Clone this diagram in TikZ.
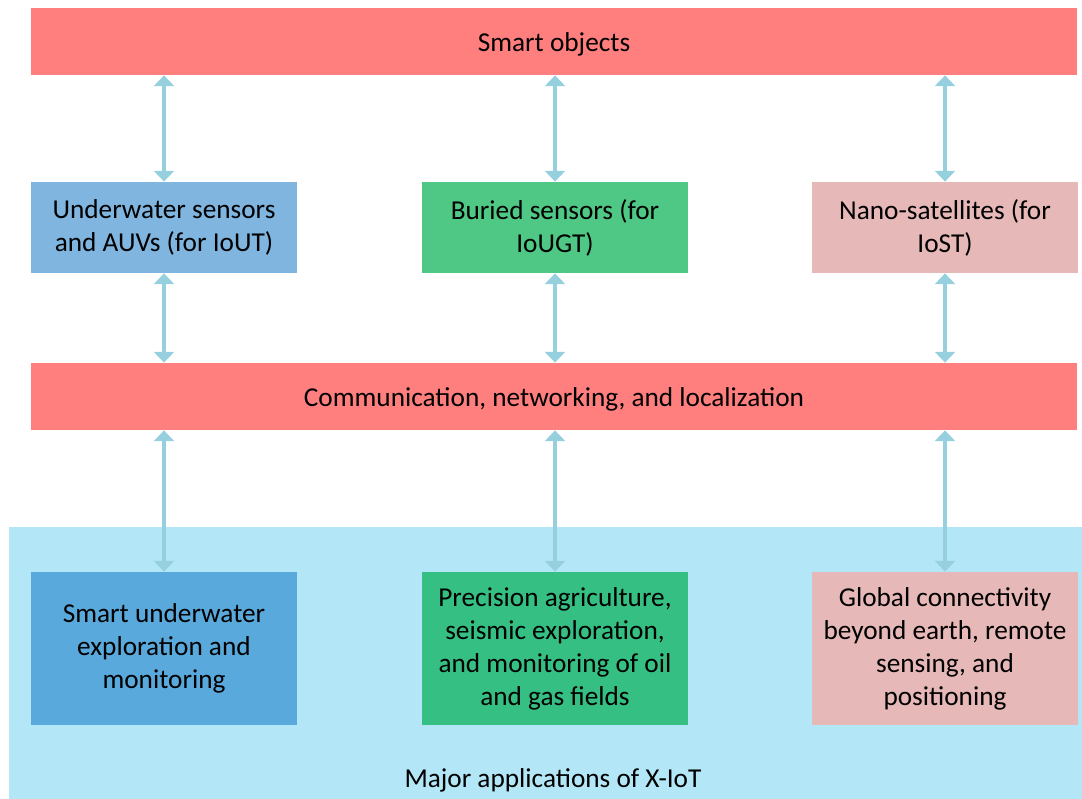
\documentclass[tikz,border=0pt]{standalone}
\usepackage{fontspec}
\setmainfont{Carlito}
\usepackage{tikz}
\usetikzlibrary{arrows.meta}
\RequirePackage{xcolor}
\definecolor{barred}{HTML}{FF7F7F}
\definecolor{seablue}{HTML}{7FB5DF}
\definecolor{seadeep}{HTML}{5AA9DC}
\definecolor{soilgreen}{HTML}{4EC884}
\definecolor{soildeep}{HTML}{36BF83}
\definecolor{spacepink}{HTML}{E6B8B7}
\definecolor{appback}{HTML}{B3E7F8}
\definecolor{linkblue}{HTML}{96CFDD}

\begin{document}
\begin{tikzpicture}[x=0.025cm, y=-0.025cm,
    every node/.style={font=\fontsize{19.4}{23.5}\selectfont, align=center, inner sep=0pt},
    bar/.style={fill=barred, minimum width=26.15cm, minimum height=1.68cm, execute at begin node={\rule{0pt}{18pt}}},
    box/.style={minimum width=6.65cm, minimum height=2.28cm, execute at begin node={\rule{0pt}{21pt}}},
    appbox/.style={minimum width=6.65cm, minimum height=3.83cm, execute at begin node={\rule{0pt}{21pt}}},
    link/.style={draw=linkblue, line width=2.8pt, {Triangle[width=0.5cm,length=0.27cm]}-{Triangle[width=0.5cm,length=0.27cm]}}]
    \useasboundingbox (0,0) rectangle (1082,799);
    \fill[appback] (9,527) rectangle (1082,799);

    \draw (554,41.5) node[bar] (smart) {Smart objects};
    \draw (554,396.5) node[bar] (comm) {Communication, networking, and localization};

    \draw (164,227.5) node[box, fill=seablue] (iout) {Underwater sensors\\and AUVs (for IoUT)};
    \draw (555,227.5) node[box, fill=soilgreen] (iougt) {Buried sensors (for\\IoUGT)};
    \draw (945,227.5) node[box, fill=spacepink] (iost) {Nano-satellites (for\\IoST)};

    \draw (164,648.5) node[appbox, fill=seadeep] (water) {Smart underwater\\exploration and\\monitoring};
    \draw (555,648.5) node[appbox, fill=soildeep] (soil) {Precision agriculture,\\seismic exploration,\\and monitoring of oil\\and gas fields};
    \draw (945,648.5) node[appbox, fill=spacepink] (space) {Global connectivity\\beyond earth, remote\\sensing, and\\positioning};

    \draw (553,780) node (major) {Major applications of X-IoT};

    % links between layers
    \draw[link] (iout.north) -- (iout.north |- smart.south);
    \draw[link] (iougt.north) -- (iougt.north |- smart.south);
    \draw[link] (iost.north) -- (iost.north |- smart.south);
    \draw[link] (iout.south) -- (iout.south |- comm.north);
    \draw[link] (iougt.south) -- (iougt.south |- comm.north);
    \draw[link] (iost.south) -- (iost.south |- comm.north);
    \draw[link] (water.north) -- (water.north |- comm.south);
    \draw[link] (soil.north) -- (soil.north |- comm.south);
    \draw[link] (space.north) -- (space.north |- comm.south);
\end{tikzpicture}
\end{document}
